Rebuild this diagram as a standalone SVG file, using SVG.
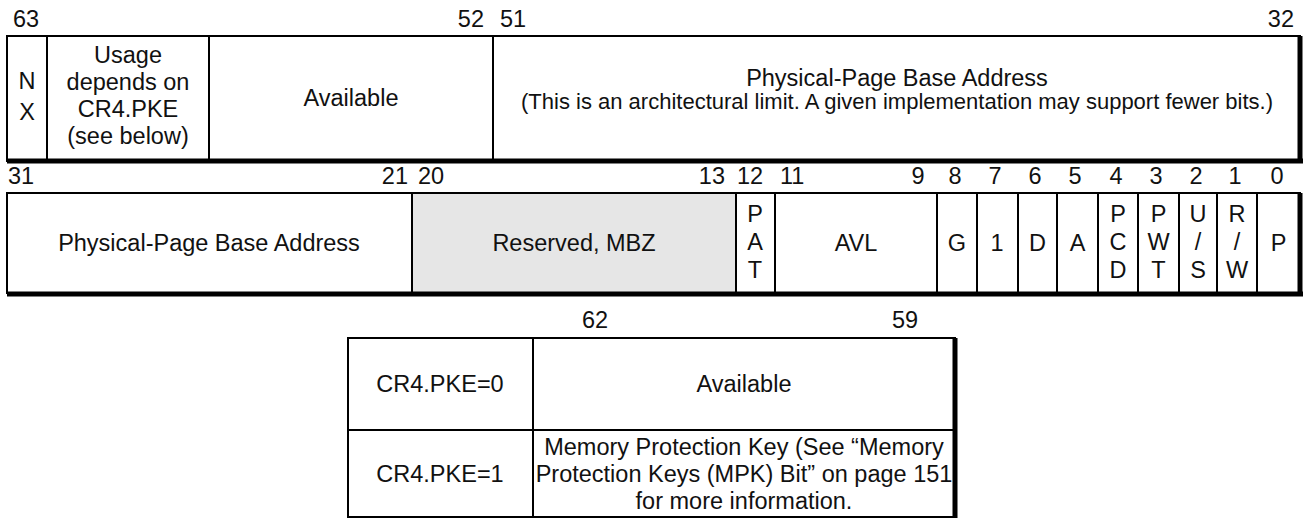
<svg xmlns="http://www.w3.org/2000/svg" width="1307" height="523" viewBox="0 0 1307 523">
<style>
text{font-family:"Liberation Sans",Arial,sans-serif;font-size:23.5px;fill:#111;}
.c{text-anchor:middle}
.e{text-anchor:end}
.small{font-size:22px}
.thin{stroke:#000;stroke-width:2;fill:none}
.thick{stroke:#000;stroke-width:5;fill:none}
</style>
<rect width="1307" height="523" fill="#fff"/>
<g id="bitlabels-top">
<text x="13" y="27">63</text>
<text x="484" y="27" class="e">52</text>
<text x="500" y="27">51</text>
<text x="1294" y="27" class="e">32</text>
</g>
<g id="row1">
<rect x="7" y="36" width="1293" height="125" class="thin"/>
<line x1="7" y1="161" x2="1303" y2="161" class="thick"/>
<line x1="1300" y1="36" x2="1300" y2="163" class="thick"/>
<line x1="47" y1="36" x2="47" y2="161" class="thin"/>
<line x1="209" y1="36" x2="209" y2="161" class="thin"/>
<line x1="493" y1="36" x2="493" y2="161" class="thin"/>
</g>
<g id="nx"><text x="27" y="89" class="c">N</text><text x="27" y="120" class="c">X</text></g>
<g id="usage">
<text x="128" y="63" class="c">Usage</text>
<text x="128" y="90" class="c">depends on</text>
<text x="128" y="117" class="c">CR4.PKE</text>
<text x="128" y="144" class="c">(see below)</text>
</g>
<g id="available-top"><text x="351" y="106" class="c">Available</text></g>
<g id="ppba-top">
<text x="897" y="86" class="c">Physical-Page Base Address</text>
<text x="897" y="109" class="c small">(This is an architectural limit. A given implementation may support fewer bits.)</text>
</g>
<g id="bitlabels-low">
<text x="8" y="184">31</text>
<text x="408" y="184" class="e">21</text>
<text x="418" y="184">20</text>
<text x="725" y="184" class="e">13</text>
<text x="737" y="184">12</text>
<text x="780" y="184">11</text>
<text x="918" y="184" class="c">9</text>
<text x="955" y="184" class="c">8</text>
<text x="995" y="184" class="c">7</text>
<text x="1035" y="184" class="c">6</text>
<text x="1075" y="184" class="c">5</text>
<text x="1116" y="184" class="c">4</text>
<text x="1156" y="184" class="c">3</text>
<text x="1196" y="184" class="c">2</text>
<text x="1235" y="184" class="c">1</text>
<text x="1277" y="184" class="c">0</text>
</g>
<g id="row2">
<rect x="412" y="193" width="324" height="100" fill="#e6e6e6"/>
<rect x="7" y="193" width="1293" height="100" class="thin"/>
<line x1="7" y1="294" x2="1303" y2="294" class="thick"/>
<line x1="1300" y1="193" x2="1300" y2="296" class="thick"/>
<line x1="412" y1="193" x2="412" y2="293" class="thin"/>
<line x1="736" y1="193" x2="736" y2="293" class="thin"/>
<line x1="775" y1="193" x2="775" y2="293" class="thin"/>
<line x1="937" y1="193" x2="937" y2="293" class="thin"/>
<line x1="977" y1="193" x2="977" y2="293" class="thin"/>
<line x1="1018" y1="193" x2="1018" y2="293" class="thin"/>
<line x1="1057" y1="193" x2="1057" y2="293" class="thin"/>
<line x1="1098" y1="193" x2="1098" y2="293" class="thin"/>
<line x1="1138" y1="193" x2="1138" y2="293" class="thin"/>
<line x1="1179" y1="193" x2="1179" y2="293" class="thin"/>
<line x1="1217" y1="193" x2="1217" y2="293" class="thin"/>
<line x1="1257" y1="193" x2="1257" y2="293" class="thin"/>
</g>
<g id="ppba-low"><text x="209" y="251" class="c">Physical-Page Base Address</text></g>
<g id="reserved"><text x="574" y="251" class="c">Reserved, MBZ</text></g>
<g id="pat"><text x="755" y="222" class="c">P</text><text x="755" y="250" class="c">A</text><text x="755" y="278" class="c">T</text></g>
<g id="avl"><text x="856" y="251" class="c">AVL</text></g>
<g id="g"><text x="957" y="251" class="c">G</text></g>
<g id="one"><text x="997" y="251" class="c">1</text></g>
<g id="d"><text x="1037.5" y="251" class="c">D</text></g>
<g id="a"><text x="1077.5" y="251" class="c">A</text></g>
<g id="pcd"><text x="1118" y="222" class="c">P</text><text x="1118" y="250" class="c">C</text><text x="1118" y="278" class="c">D</text></g>
<g id="pwt"><text x="1158.5" y="222" class="c">P</text><text x="1158.5" y="250" class="c">W</text><text x="1158.5" y="278" class="c">T</text></g>
<g id="us"><text x="1198" y="222" class="c">U</text><text x="1198" y="250" class="c">/</text><text x="1198" y="278" class="c">S</text></g>
<g id="rw"><text x="1237" y="222" class="c">R</text><text x="1237" y="250" class="c">/</text><text x="1237" y="278" class="c">W</text></g>
<g id="p"><text x="1278.5" y="251" class="c">P</text></g>
<g id="bitlabels-table">
<text x="595" y="328" class="c">62</text>
<text x="905" y="328" class="c">59</text>
</g>
<g id="table">
<rect x="348" y="338" width="607" height="179" class="thin"/>
<line x1="955" y1="338" x2="955" y2="518" stroke="#000" stroke-width="5"/>
<line x1="533" y1="338" x2="533" y2="517" class="thin"/>
<line x1="348" y1="430" x2="955" y2="430" class="thin"/>
</g>
<g id="pke0"><text x="440" y="392" class="c">CR4.PKE=0</text><text x="744" y="392" class="c">Available</text></g>
<g id="pke1">
<text x="440" y="482" class="c">CR4.PKE=1</text>
<text x="744" y="455" class="c">Memory Protection Key (See “Memory</text>
<text x="744" y="482" class="c">Protection Keys (MPK) Bit” on page 151</text>
<text x="744" y="509" class="c">for more information.</text>
</g>
</svg>
